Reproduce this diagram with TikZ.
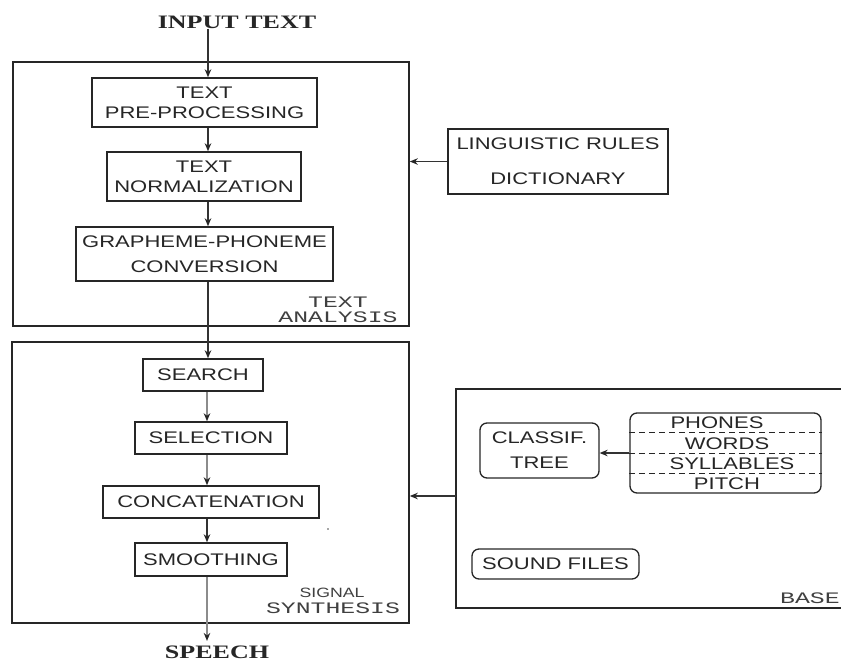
\documentclass[tikz,border=0pt]{standalone}
\usepackage{fontspec}
\setmainfont{Liberation Sans}
\newfontfamily\boxfont[FakeStretch=1.31]{Liberation Sans}
\newfontfamily\headfont[FakeStretch=1.37]{Liberation Serif}
\newfontfamily\tagfont[FakeStretch=1.55]{Liberation Mono}
\usetikzlibrary{arrows.meta}

\begin{document}
\begin{tikzpicture}[x=1pt,y=-1pt,
  box/.style={draw=black!85, line width=1.5pt, inner sep=0pt, align=center,
    text=black!85, font=\boxfont\fontsize{16.8}{20}\selectfont},
  rbox/.style={box, rounded corners=7pt, line width=1.3pt},
  frame/.style={draw=black!85, line width=1.6pt, inner sep=0pt},
  flow/.style={line width=1.4pt, draw=black!80,
    -{Stealth[length=8pt,width=6.5pt,color=black!85]}},
  softflow/.style={flow, draw=black!45},
  head/.style={inner sep=0pt, text=black!85, font=\headfont\bfseries\fontsize{19}{22}\selectfont},
  tag/.style={inner sep=0pt, align=center, text=black!75,
    font=\tagfont\fontsize{16}{15}\selectfont},
  smalltag/.style={inner sep=0pt, text=black!75, font=\boxfont\fontsize{13.5}{15}\selectfont},
  divider/.style={draw=black!85, line width=1pt, dashed, dash pattern=on 6pt off 4pt}]

\useasboundingbox (0,0) rectangle (841,662);

% ---------- text analysis stage ----------
\node[head] (in) at (237,22) {INPUT TEXT};
\node[frame, minimum width=396pt, minimum height=264pt] (ana) at (211,194) {};
\node[box, minimum width=225pt, minimum height=49pt] (pre) at (204.5,102.5) {TEXT\\PRE-PROCESSING};
\node[box, minimum width=194pt, minimum height=49pt] (norm) at (204,176.5) {TEXT\\NORMALIZATION};
\node[box, minimum width=257pt, minimum height=54pt] (gp) at (204.5,254) {GRAPHEME-PHONEME\\[5pt]CONVERSION};
\node[tag] (anatag) at (338,310) {TEXT\\ANALYSIS};

\node[box, minimum width=220pt, minimum height=65pt] (ling) at (558,161.5) {LINGUISTIC RULES\\[15pt]DICTIONARY};

% ---------- signal synthesis stage ----------
\node[frame, minimum width=397pt, minimum height=281pt] (syn) at (210.5,482.5) {};
\node[box, minimum width=120pt, minimum height=32pt] (search) at (203,375) {SEARCH};
\node[box, minimum width=152pt, minimum height=32pt] (sel) at (211,438) {SELECTION};
\node[box, minimum width=216pt, minimum height=32pt] (concat) at (211,502) {CONCATENATION};
\node[box, minimum width=152pt, minimum height=33pt] (smooth) at (211,559.5) {SMOOTHING};
\node[smalltag] (sigtag) at (332,593) {SIGNAL};
\node[tag] (syntag) at (333,608) {SYNTHESIS};
\node[head] (out) at (217,652.5) {SPEECH};
\fill[black!70] (328,529) circle (0.8);

% ---------- data base ----------
\draw[line width=1.5pt, black!85] (841,389) -- (456,389) -- (456,608) -- (841,608);
\coordinate (baseL) at (456,496);
\node[rbox, minimum width=119pt, minimum height=55pt] (classif) at (539.5,450.5) {CLASSIF.\\[5pt]TREE};
\node[rbox, minimum width=191pt, minimum height=80pt] (stack) at (725.5,453) {};
\draw[divider] ([yshift=-20pt]stack.north west) -- ([yshift=-20pt]stack.north east);
\draw[divider] ([yshift=-41pt]stack.north west) -- ([yshift=-41pt]stack.north east);
\draw[divider] ([yshift=-61pt]stack.north west) -- ([yshift=-61pt]stack.north east);
\node[box, draw=none] (phones) at (717,423) {PHONES};
\node[box, draw=none] (words) at (727,443.5) {WORDS};
\node[box, draw=none] (syll) at (732,463.5) {SYLLABLES};
\node[box, draw=none] (pitch) at (727,484) {PITCH};
\node[rbox, minimum width=167pt, minimum height=30pt] (sound) at (555.5,564) {SOUND FILES};
\node[tag, anchor=west] (basetag) at (780,598) {BASE};

% ---------- connectors ----------
\coordinate (ax) at (208,0);
\coordinate (bx) at (207,0);
\draw[flow] (in.south -| ax) -- (pre.north -| ax);
\draw[flow] (pre.south -| ax) -- (norm.north -| ax);
\draw[flow] (norm.south -| ax) -- (gp.north -| ax);
\draw[flow] (gp.south -| ax) -- (search.north -| ax);
\draw[softflow] (search.south -| bx) -- (sel.north -| bx);
\draw[softflow] (sel.south -| bx) -- (concat.north -| bx);
\draw[flow] (concat.south -| bx) -- (smooth.north -| bx);
\draw[softflow] (smooth.south -| bx) -- ([yshift=5pt]out.north -| bx);
\draw[flow] (ling.west) -- (ling.west -| ana.east);
\draw[flow] (baseL) -- (baseL -| syn.east);
\draw[flow, line width=1.2pt] (stack.west) -- (stack.west -| classif.east);
\end{tikzpicture}
\end{document}
